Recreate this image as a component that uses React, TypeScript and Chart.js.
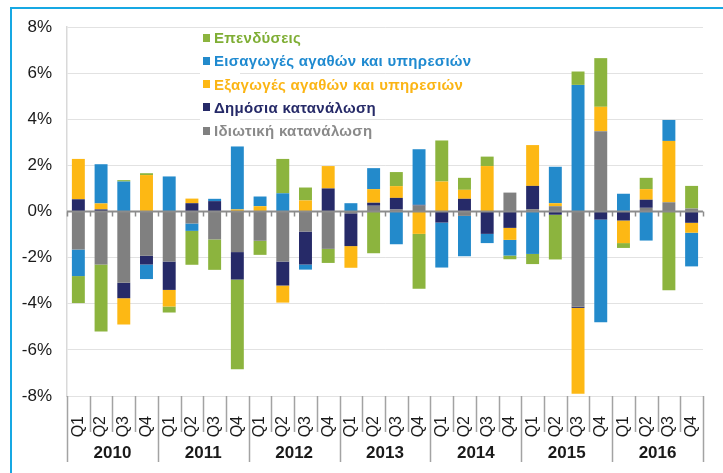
import React, { useEffect, useRef } from "react";
import { Chart, registerables } from "chart.js";

Chart.register(...registerables);

const years = ["2010", "2011", "2012", "2013", "2014", "2015", "2016"];
const quarterLabels = ["Q1", "Q2", "Q3", "Q4"];
const categories = years.flatMap((yr) => quarterLabels.map((q) => `${q} ${yr}`));

const yTicks = [-8, -6, -4, -2, 0, 2, 4, 6, 8];

// Επενδύσεις
const investment = [
  -1.17, -2.9, 0.06, 0.08, -0.26, -1.47, -1.32, -3.89, -0.61, 1.49, 0.56, -0.61, 0, -1.81,
  0.61, -2.38, 1.78, 0.52, 0.41, -0.16, -0.44, -1.94, 0.58, 2.11, -0.21, 0.49, -3.42, 0.98,
];
// Εισαγωγές αγαθών και υπηρεσιών
const imports = [
  -1.15, 1.7, 1.3, -0.63, 1.52, -0.32, 0.1, 2.73, 0.42, 0.79, -0.22, 0, 0.36, 0.91,
  -1.42, 2.41, -1.95, -1.75, -0.4, -0.68, -1.84, 1.58, 5.49, -4.45, 0.77, -1.26, 0.91, -1.46,
];
// Εξαγωγές αγαθών και υπηρεσιών
const exportsData = [
  1.75, 0.26, -1.14, 1.58, -0.72, 0.2, 0, 0.09, 0.23, -0.74, 0.48, 0.97, -0.94, 0.59,
  0.51, -0.97, 1.3, 0.39, 1.97, -0.52, 1.77, 0.13, -3.72, 1.06, -0.98, 0.46, 2.66, -0.43,
];
// Δημόσια κατανάλωση
const publicCons = [
  0.53, 0.09, -0.67, -0.38, -1.23, 0.36, 0.45, -1.19, 0, -1.04, -1.43, 1.0, -1.42, 0.13,
  0.5, 0.03, -0.48, 0.55, -0.97, -0.71, 1.01, -0.14, -0.05, -0.35, -0.39, 0.35, 0, -0.49,
];
// Ιδιωτική κατανάλωση
const privateCons = [
  -1.65, -2.3, -3.09, -1.92, -2.17, -0.52, -1.21, -1.76, -1.27, -2.17, -0.87, -1.62, -0.08, 0.25,
  0.09, 0.26, 0, -0.19, 0, 0.82, 0.1, 0.23, -4.13, 3.48, 0, 0.16, 0.4, 0.13,
];

const COLORS = {
  investment: "#8cb43e",
  imports: "#238acb",
  exports: "#fdb814",
  publicCons: "#262a68",
  privateCons: "#808080",
};

const legendItems = [
  { label: "Επενδύσεις", color: COLORS.investment, text: "#7fae35" },
  { label: "Εισαγωγές αγαθών και υπηρεσιών", color: COLORS.imports, text: "#1f8ad0" },
  { label: "Εξαγωγές αγαθών και υπηρεσιών", color: COLORS.exports, text: "#fbb515" },
  { label: "Δημόσια κατανάλωση", color: COLORS.publicCons, text: "#262a68" },
  { label: "Ιδιωτική κατανάλωση", color: COLORS.privateCons, text: "#8a8a8a" },
];

const FONT = "'Liberation Sans', Arial, sans-serif";

const decorPlugin = {
  id: "decor",
  afterDatasetsDraw(chart: any) {
    const { ctx, chartArea, scales } = chart;
    const x = scales.x;
    const y = scales.y;
    const n = categories.length;
    const step = x.getPixelForValue(1) - x.getPixelForValue(0);
    const y0 = y.getPixelForValue(0);
    ctx.save();
    // zero axis line
    ctx.strokeStyle = "#8c8c8c";
    ctx.lineWidth = 2;
    ctx.beginPath();
    ctx.moveTo(chartArea.left, y0);
    ctx.lineTo(chartArea.right, y0);
    ctx.stroke();
    // small ticks on zero axis
    ctx.lineWidth = 1.5;
    for (let i = 0; i <= n; i++) {
      const bx = Math.round(x.getPixelForValue(i) - step / 2) + 0.5;
      ctx.beginPath();
      ctx.moveTo(bx, y0);
      ctx.lineTo(bx, y0 + 5);
      ctx.stroke();
    }
    ctx.restore();
  },
  afterDraw(chart: any) {
    const { ctx, chartArea, scales } = chart;
    const x = scales.x;
    const n = categories.length;
    const step = x.getPixelForValue(1) - x.getPixelForValue(0);
    const bottom = chartArea.bottom;
    ctx.save();
    ctx.strokeStyle = "#a3a3a3";
    ctx.lineWidth = 1.5;
    for (let i = 0; i <= n; i++) {
      const bx = Math.round(x.getPixelForValue(i) - step / 2) + 0.5;
      const isYear = i % quarterLabels.length === 0;
      ctx.beginPath();
      ctx.moveTo(bx, bottom);
      ctx.lineTo(bx, bottom + (isYear ? 66 : 36));
      ctx.stroke();
    }
    ctx.fillStyle = "#1a1a1a";
    ctx.font = `bold 17px ${FONT}`;
    ctx.textAlign = "center";
    ctx.textBaseline = "middle";
    years.forEach((yr, k) => {
      const a = x.getPixelForValue(k * 4);
      const b = x.getPixelForValue(k * 4 + 3);
      ctx.fillText(yr, (a + b) / 2, bottom + 57);
    });
    ctx.restore();
  },
};

export default function App() {
  const ref = useRef<HTMLCanvasElement | null>(null);

  useEffect(() => {
    if (!ref.current) return;
    const mk = (label: string, data: number[], color: string) => ({
      label,
      data,
      backgroundColor: color,
      borderWidth: 0,
      categoryPercentage: 1,
      barPercentage: 0.57,
    });
    const chart = new Chart(ref.current, {
      type: "bar",
      data: {
        labels: categories,
        datasets: [
          mk("Ιδιωτική κατανάλωση", privateCons, COLORS.privateCons),
          mk("Δημόσια κατανάλωση", publicCons, COLORS.publicCons),
          mk("Εξαγωγές αγαθών και υπηρεσιών", exportsData, COLORS.exports),
          mk("Εισαγωγές αγαθών και υπηρεσιών", imports, COLORS.imports),
          mk("Επενδύσεις", investment, COLORS.investment),
        ],
      },
      options: {
        responsive: false,
        animation: false,
        layout: { padding: { left: 0, right: 11, top: 27, bottom: 0 } },
        plugins: {
          legend: { display: false },
          tooltip: { enabled: false },
        },
        scales: {
          x: {
            stacked: true,
            grid: { display: false },
            border: { display: false },
            ticks: {
              autoSkip: false,
              minRotation: 90,
              maxRotation: 90,
              padding: 12,
              color: "#1a1a1a",
              font: { family: FONT, size: 16 },
              callback: (_v: any, i: number) => quarterLabels[i % quarterLabels.length],
            },
            afterFit: (s: any) => {
              s.height = 77;
            },
          },
          y: {
            stacked: true,
            min: yTicks[0],
            max: yTicks[yTicks.length - 1],
            afterBuildTicks: (s: any) => {
              s.ticks = yTicks.map((v) => ({ value: v }));
            },
            grid: { color: "#e2e2e2", lineWidth: 1, drawTicks: false },
            border: { display: true, color: "#d9d9d9", width: 1.5 },
            ticks: {
              padding: 15,
              color: "#1a1a1a",
              font: { family: FONT, size: 17 },
              callback: (v: any) => `${v}%`,
            },
            afterFit: (s: any) => {
              s.width = 67;
            },
          },
        },
      },
      plugins: [decorPlugin],
    });
    return () => chart.destroy();
  }, []);

  return (
    <div style={{ position: "absolute", left: 0, top: 0, width: 723, height: 473, background: "#fff", overflow: "hidden" }}>
      <canvas ref={ref} width={723} height={473} style={{ display: "block", position: "absolute", left: 0, top: 0 }} />
      <div
        style={{
          position: "absolute",
          left: 10,
          top: 7,
          width: 740,
          height: 500,
          borderTop: "2px solid #17a8e3",
          borderLeft: "2px solid #17a8e3",
          pointerEvents: "none",
        }}
      />
      <div style={{ position: "absolute", left: 200, top: 28, width: 40, height: 112, background: "#fff" }} />
      {legendItems.map((it, i) => (
        <div
          key={it.label}
          style={{
            position: "absolute",
            left: 203,
            top: 37.5 + i * 23.3 - 10,
            height: 20,
            display: "flex",
            alignItems: "center",
            whiteSpace: "nowrap",
          }}
        >
          <span style={{ display: "inline-block", width: 7, height: 8, background: it.color, marginRight: 4 }} />
          <span style={{ font: `bold 15px ${FONT}`, color: it.text, letterSpacing: 0.3 }}>{it.label}</span>
        </div>
      ))}
    </div>
  );
}
